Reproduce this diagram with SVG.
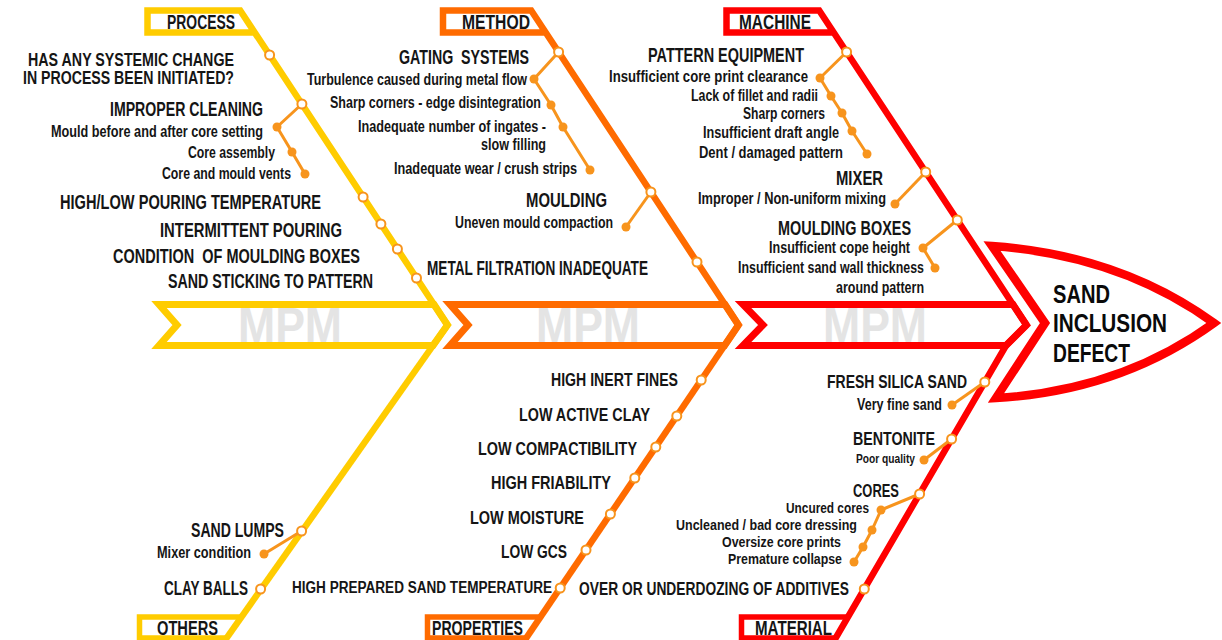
<svg xmlns="http://www.w3.org/2000/svg" width="1222" height="640" viewBox="0 0 1222 640">
  <style>
    .bg { fill: #ffffff; }
    .ln { fill: none; stroke-linejoin: miter; stroke-miterlimit: 6; }
    .yl { stroke: #FFCC00; }
    .or { stroke: #FF6B00; }
    .rd { stroke: #FF0000; }
    .box { stroke-width: 5.5; }
    .main { stroke-width: 6.5; }
    .band { stroke-width: 7; }
    .sub { fill: none; stroke: #F7941D; stroke-width: 3; stroke-linejoin: round; }
    .dot { fill: #F7941D; }
    .c { fill: #ffffff; stroke: #F7941D; stroke-width: 2; }
    text { font-family: "Liberation Sans Narrow", "Liberation Sans", Arial, sans-serif; font-weight: bold; fill: #151515; }
    .lbl { font-size: 19.5px; }
    .h { font-size: 19.5px; }
    .h2 { font-size: 18px; }
    .hl { font-size: 18.5px; }
    .hn { font-size: 16px; }
    .s { font-size: 16px; }
    .ss { font-size: 15px; }
    .xs { font-size: 13px; }
    .wm { font-size: 50px; fill: #e4e4e4; text-anchor: middle; }
    .head { font-size: 26.5px; fill: #0a0a0a; }
  </style>

  <rect class="bg" x="0" y="0" width="1222" height="640"/>

  <!-- faded MPM marks inside the three arrow bands -->
  <g id="watermarks">
    <text class="wm" x="290" y="343" textLength="104" lengthAdjust="spacingAndGlyphs">MPM</text>
    <text class="wm" x="588" y="343" textLength="104" lengthAdjust="spacingAndGlyphs">MPM</text>
    <text class="wm" x="875" y="343" textLength="104" lengthAdjust="spacingAndGlyphs">MPM</text>
  </g>

  <!-- spines: category boxes, diagonal bones and arrow bands -->
  <g id="connectors">
    <!-- yellow: PROCESS / OTHERS -->
    <path class="ln yl main" d="M254.7,32.5 H147.5 V10.5 H240.2 L447.5,325"/>
    <polygon class="ln yl band" points="159,304.5 434,304.5 447.5,325 433,345.5 159,345.5 177,325"/>
    <path class="ln yl main" d="M447.5,325 L224.5,641"/>
    <path class="ln yl box" d="M240.8,617 H139.5 V638 H225.9"/>

    <!-- orange: METHOD / PROPERTIES -->
    <path class="ln or main" d="M545.7,32.5 H443 V10.5 H531.2 L738.5,325"/>
    <polygon class="ln or band" points="450,304.5 725,304.5 738.5,325 724.6,345.5 450,345.5 468,325"/>
    <path class="ln or main" d="M738.5,325 L524.2,641"/>
    <path class="ln or box" d="M540.5,617 H427.5 V638 H526.3"/>

    <!-- red: MACHINE / MATERIAL -->
    <path class="ln rd main" d="M834,32.5 H726.5 V10.5 H819.2 L1026.5,325"/>
    <polygon class="ln rd band" points="743,304.5 1013,304.5 1026.5,325 1006,345.5 743,345.5 763,325"/>
    <path class="ln rd main" d="M1026.5,325 L1006,345.5 L834,641"/>
    <path class="ln rd box" d="M848,617 H741.5 V638 H835.8"/>

    <!-- sub-cause twigs -->
    <polyline class="sub" points="301.9,104 277,127 292,152 305,174"/>
    <polyline class="sub" points="301.6,531 264,554"/>
    <polyline class="sub" points="558.6,52 534,79 551,105 563,127 590,170"/>
    <polyline class="sub" points="650.9,192 626,227"/>
    <polyline class="sub" points="846.6,52 820,78 831,96 842,113 852,131 867,154"/>
    <polyline class="sub" points="925.7,172 895,204"/>
    <polyline class="sub" points="957.3,220 923,248 935,268"/>
    <polyline class="sub" points="984.8,382 952,405"/>
    <polyline class="sub" points="951.6,439 924,460"/>
    <polyline class="sub" points="919.6,494 881,510 872,530 863,547 854,562"/>
  </g>

  <!-- effect head -->
  <g id="effect">
    <path class="ln rd" stroke-width="8.5" d="M992,246 Q1120,255 1214,323 Q1120,391 996,398 L1045,323 Z"/>
    <text class="head" x="1053" y="302.5" textLength="57" lengthAdjust="spacingAndGlyphs">SAND</text>
    <text class="head" x="1053" y="332" textLength="114" lengthAdjust="spacingAndGlyphs">INCLUSION</text>
    <text class="head" x="1053" y="361.5" textLength="77" lengthAdjust="spacingAndGlyphs">DEFECT</text>
  </g>

  <!-- PROCESS -->
  <g id="process">
    <text class="lbl" x="167" y="29" textLength="68" lengthAdjust="spacingAndGlyphs">PROCESS</text>
    <circle class="c" cx="269.6" cy="55" r="4.5"/>
    <text class="h2" x="28" y="65.5" textLength="206" lengthAdjust="spacingAndGlyphs">HAS ANY SYSTEMIC CHANGE</text>
    <text class="h2" x="23" y="84" textLength="211" lengthAdjust="spacingAndGlyphs">IN PROCESS BEEN INITIATED?</text>
    <circle class="c" cx="301.9" cy="104" r="4.5"/>
    <text class="h" x="110" y="116" textLength="153" lengthAdjust="spacingAndGlyphs">IMPROPER CLEANING</text>
    <circle class="dot" cx="277" cy="127" r="4.5"/>
    <text class="s" x="51" y="137" textLength="212" lengthAdjust="spacingAndGlyphs">Mould before and after core setting</text>
    <circle class="dot" cx="292" cy="152" r="4.5"/>
    <text class="s" x="188" y="158" textLength="87" lengthAdjust="spacingAndGlyphs">Core assembly</text>
    <circle class="dot" cx="305" cy="174" r="4.5"/>
    <text class="s" x="162" y="179" textLength="129" lengthAdjust="spacingAndGlyphs">Core and mould vents</text>
    <circle class="c" cx="363.1" cy="197" r="4.5"/>
    <text class="h" x="60" y="209" textLength="261" lengthAdjust="spacingAndGlyphs">HIGH/LOW POURING TEMPERATURE</text>
    <circle class="c" cx="380.9" cy="224" r="4.5"/>
    <text class="h" x="160" y="237" textLength="182" lengthAdjust="spacingAndGlyphs">INTERMITTENT POURING</text>
    <circle class="c" cx="397.4" cy="249" r="4.5"/>
    <text class="h" x="113" y="263" textLength="247" lengthAdjust="spacingAndGlyphs" xml:space="preserve">CONDITION  OF MOULDING BOXES</text>
    <circle class="c" cx="416.5" cy="278" r="4.5"/>
    <text class="h" x="168" y="288" textLength="205" lengthAdjust="spacingAndGlyphs">SAND STICKING TO PATTERN</text>
  </g>

  <!-- OTHERS -->
  <g id="others">
    <circle class="c" cx="301.6" cy="531" r="4.5"/>
    <text class="h" x="191" y="537" textLength="93" lengthAdjust="spacingAndGlyphs">SAND LUMPS</text>
    <circle class="dot" cx="264" cy="554" r="4.5"/>
    <text class="s" x="157" y="558" textLength="94" lengthAdjust="spacingAndGlyphs">Mixer condition</text>
    <circle class="c" cx="260.6" cy="589" r="4.5"/>
    <text class="h" x="164" y="595" textLength="84" lengthAdjust="spacingAndGlyphs">CLAY BALLS</text>
    <text class="lbl" x="157" y="635" textLength="61" lengthAdjust="spacingAndGlyphs">OTHERS</text>
  </g>

  <!-- METHOD -->
  <g id="method">
    <text class="lbl" x="462" y="29" textLength="68" lengthAdjust="spacingAndGlyphs">METHOD</text>
    <circle class="c" cx="558.6" cy="52" r="4.5"/>
    <text class="h" x="399" y="64" textLength="130" lengthAdjust="spacingAndGlyphs" xml:space="preserve">GATING  SYSTEMS</text>
    <circle class="dot" cx="534" cy="79" r="4.5"/>
    <text class="s" x="307" y="85" textLength="220" lengthAdjust="spacingAndGlyphs">Turbulence caused during metal flow</text>
    <circle class="dot" cx="551" cy="105" r="4.5"/>
    <text class="s" x="330" y="108" textLength="211" lengthAdjust="spacingAndGlyphs">Sharp corners - edge disintegration</text>
    <circle class="dot" cx="563" cy="127" r="4.5"/>
    <text class="s" x="358" y="131.5" textLength="188" lengthAdjust="spacingAndGlyphs">Inadequate number of ingates -</text>
    <text class="s" x="481" y="150" textLength="65" lengthAdjust="spacingAndGlyphs">slow filling</text>
    <circle class="dot" cx="590" cy="170" r="4.5"/>
    <text class="s" x="394" y="174" textLength="183" lengthAdjust="spacingAndGlyphs">Inadequate wear / crush strips</text>
    <circle class="c" cx="650.9" cy="192" r="4.5"/>
    <text class="h" x="526" y="207" textLength="81" lengthAdjust="spacingAndGlyphs">MOULDING</text>
    <circle class="dot" cx="626" cy="227" r="4.5"/>
    <text class="s" x="455" y="228" textLength="158" lengthAdjust="spacingAndGlyphs">Uneven mould compaction</text>
    <circle class="c" cx="697" cy="262" r="4.5"/>
    <text class="h" x="427" y="275" textLength="221" lengthAdjust="spacingAndGlyphs">METAL FILTRATION INADEQUATE</text>
  </g>

  <!-- PROPERTIES -->
  <g id="properties">
    <circle class="c" cx="701.2" cy="380" r="4.5"/>
    <text class="hl" x="551" y="386" textLength="127" lengthAdjust="spacingAndGlyphs">HIGH INERT FINES</text>
    <circle class="c" cx="676.8" cy="416" r="4.5"/>
    <text class="hl" x="519" y="421" textLength="131" lengthAdjust="spacingAndGlyphs">LOW ACTIVE CLAY</text>
    <circle class="c" cx="655.8" cy="447" r="4.5"/>
    <text class="hl" x="478" y="455" textLength="159" lengthAdjust="spacingAndGlyphs">LOW COMPACTIBILITY</text>
    <circle class="c" cx="634.8" cy="478" r="4.5"/>
    <text class="hl" x="491" y="489" textLength="120" lengthAdjust="spacingAndGlyphs">HIGH FRIABILITY</text>
    <circle class="c" cx="610.4" cy="514" r="4.5"/>
    <text class="hl" x="470" y="524" textLength="114" lengthAdjust="spacingAndGlyphs">LOW MOISTURE</text>
    <circle class="c" cx="586" cy="550" r="4.5"/>
    <text class="hl" x="501" y="558" textLength="66" lengthAdjust="spacingAndGlyphs">LOW GCS</text>
    <circle class="c" cx="560.2" cy="588" r="4.5"/>
    <text class="hn" x="292" y="593" textLength="260" lengthAdjust="spacingAndGlyphs">HIGH PREPARED SAND TEMPERATURE</text>
    <text class="lbl" x="432" y="635" textLength="91" lengthAdjust="spacingAndGlyphs">PROPERTIES</text>
  </g>

  <!-- MACHINE -->
  <g id="machine">
    <text class="lbl" x="739" y="29" textLength="72" lengthAdjust="spacingAndGlyphs">MACHINE</text>
    <circle class="c" cx="846.6" cy="52" r="4.5"/>
    <text class="h" x="648" y="62" textLength="156" lengthAdjust="spacingAndGlyphs">PATTERN EQUIPMENT</text>
    <circle class="dot" cx="820" cy="78" r="4.5"/>
    <text class="s" x="609" y="82" textLength="199" lengthAdjust="spacingAndGlyphs">Insufficient core print clearance</text>
    <circle class="dot" cx="831" cy="96" r="4.5"/>
    <text class="s" x="691" y="101" textLength="127" lengthAdjust="spacingAndGlyphs">Lack of fillet and radii</text>
    <circle class="dot" cx="842" cy="113" r="4.5"/>
    <text class="s" x="743" y="119" textLength="82" lengthAdjust="spacingAndGlyphs">Sharp corners</text>
    <circle class="dot" cx="852" cy="131" r="4.5"/>
    <text class="s" x="703" y="138" textLength="136" lengthAdjust="spacingAndGlyphs">Insufficient draft angle</text>
    <circle class="dot" cx="867" cy="154" r="4.5"/>
    <text class="s" x="699" y="158" textLength="144" lengthAdjust="spacingAndGlyphs">Dent / damaged pattern</text>
    <circle class="c" cx="925.7" cy="172" r="4.5"/>
    <text class="h" x="836" y="185" textLength="47" lengthAdjust="spacingAndGlyphs">MIXER</text>
    <circle class="dot" cx="895" cy="204" r="4.5"/>
    <text class="s" x="698" y="204" textLength="188" lengthAdjust="spacingAndGlyphs">Improper / Non-uniform mixing</text>
    <circle class="c" cx="957.3" cy="220" r="4.5"/>
    <text class="h" x="778" y="235" textLength="133" lengthAdjust="spacingAndGlyphs">MOULDING BOXES</text>
    <circle class="dot" cx="923" cy="248" r="4.5"/>
    <text class="s" x="769" y="253" textLength="141" lengthAdjust="spacingAndGlyphs">Insufficient cope height</text>
    <circle class="dot" cx="935" cy="268" r="4.5"/>
    <text class="s" x="738" y="273" textLength="186" lengthAdjust="spacingAndGlyphs">Insufficient sand wall thickness</text>
    <text class="s" x="836" y="293" textLength="88" lengthAdjust="spacingAndGlyphs">around pattern</text>
  </g>

  <!-- MATERIAL -->
  <g id="material">
    <circle class="c" cx="984.8" cy="382" r="4.5"/>
    <text class="hl" x="827" y="388" textLength="140" lengthAdjust="spacingAndGlyphs">FRESH SILICA SAND</text>
    <circle class="dot" cx="952" cy="405" r="4.5"/>
    <text class="s" x="857" y="410" textLength="85" lengthAdjust="spacingAndGlyphs">Very fine sand</text>
    <circle class="c" cx="951.6" cy="439" r="4.5"/>
    <text class="hl" x="853" y="445" textLength="82" lengthAdjust="spacingAndGlyphs">BENTONITE</text>
    <circle class="dot" cx="924" cy="460" r="4.5"/>
    <text class="xs" x="856" y="463" textLength="59" lengthAdjust="spacingAndGlyphs">Poor quality</text>
    <circle class="c" cx="919.6" cy="494" r="4.5"/>
    <text class="hl" x="853" y="497" textLength="46" lengthAdjust="spacingAndGlyphs">CORES</text>
    <circle class="dot" cx="881" cy="510" r="4.5"/>
    <text class="ss" x="786" y="512.5" textLength="83" lengthAdjust="spacingAndGlyphs">Uncured cores</text>
    <circle class="dot" cx="872" cy="530" r="4.5"/>
    <text class="ss" x="676" y="529.5" textLength="181" lengthAdjust="spacingAndGlyphs">Uncleaned / bad core dressing</text>
    <circle class="dot" cx="863" cy="547" r="4.5"/>
    <text class="ss" x="722" y="546.5" textLength="119" lengthAdjust="spacingAndGlyphs">Oversize core prints</text>
    <circle class="dot" cx="854" cy="562" r="4.5"/>
    <text class="ss" x="728" y="563.5" textLength="114" lengthAdjust="spacingAndGlyphs">Premature collapse</text>
    <circle class="c" cx="864.3" cy="589" r="4.5"/>
    <text class="hl" x="579" y="595" textLength="270" lengthAdjust="spacingAndGlyphs">OVER OR UNDERDOZING OF ADDITIVES</text>
    <text class="lbl" x="755" y="635" textLength="77" lengthAdjust="spacingAndGlyphs">MATERIAL</text>
  </g>
</svg>
